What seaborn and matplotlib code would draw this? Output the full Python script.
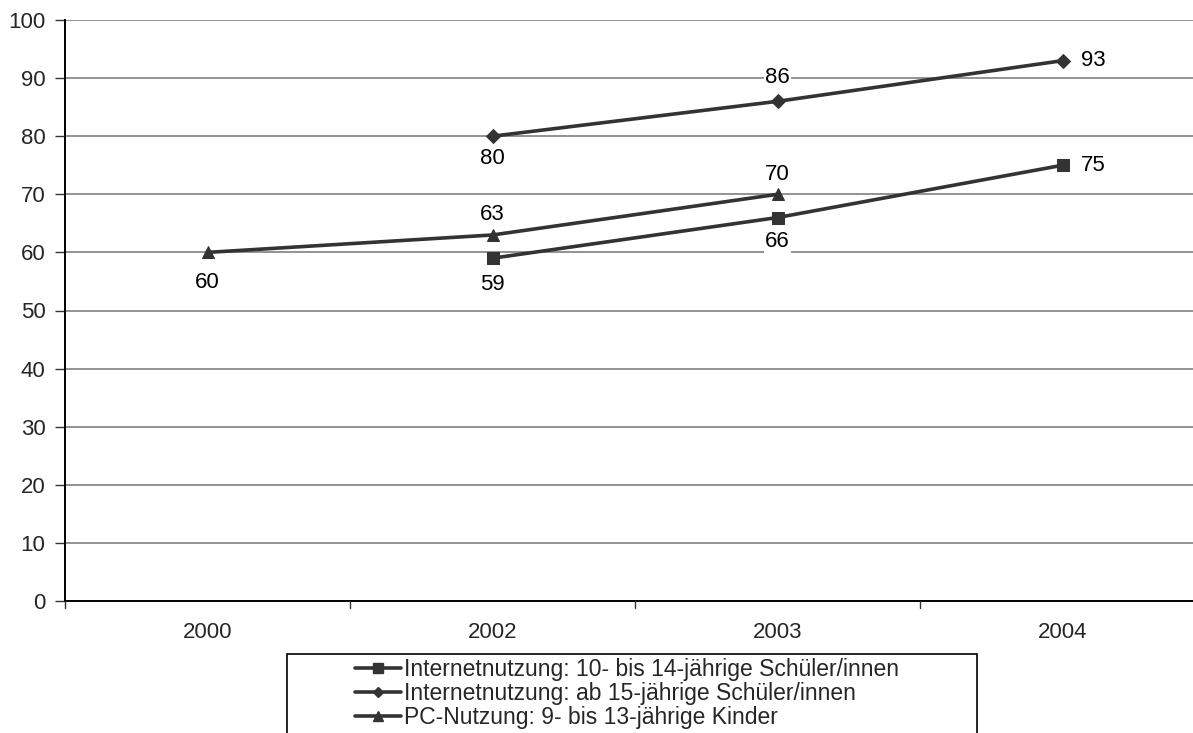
import matplotlib
matplotlib.use("Agg")
import matplotlib.pyplot as plt
import seaborn as sns
import pandas as pd
import numpy as np
from matplotlib.lines import Line2D
from matplotlib.patches import Rectangle

# Survey years (categorical axis)
years = ["2000", "2002", "2003", "2004"]

# Series values in percent (None = not surveyed)
internet_10_14 = [None, 59, 66, 75]
internet_ab_15 = [None, 80, 86, 93]
pc_9_13 = [60, 63, 70, None]

series_names = [
    "Internetnutzung: 10- bis 14-jährige Schüler/innen",
    "Internetnutzung: ab 15-jährige Schüler/innen",
    "PC-Nutzung: 9- bis 13-jährige Kinder",
]
series_values = [internet_10_14, internet_ab_15, pc_9_13]
markers = ["s", "D", "^"]
marker_sizes = [9, 7, 9]

# Label placement per series point: (dx, dy) in points
label_offsets = [
    [None, (0, -19), (0, -17), (22, 0)],
    [None, (0, -16), (0, 17.5), (22, 0)],
    [(0, -22), (0, 14.5), (0, 14.5), None],
]

y_ticks = list(range(0, 101, 10))

sns.set_theme(style="white")
plt.rcParams["font.family"] = ["Liberation Sans", "DejaVu Sans"]

W, H = 1193, 733
fig = plt.figure(figsize=(W / 100, H / 100), dpi=100)
ax = fig.add_axes([65 / W, (H - 601) / H, 1140 / W, 581 / H])

line_color = "#333333"
fs = 16

rows = []
for name, vals in zip(series_names, series_values):
    for i, v in enumerate(vals):
        if v is not None:
            rows.append({"series": name, "x": i, "value": v})
df = pd.DataFrame(rows)

for name, mk, ms in zip(series_names, markers, marker_sizes):
    sub = df[df["series"] == name]
    sns.lineplot(data=sub, x="x", y="value", ax=ax, color=line_color,
                 linewidth=2.6, marker=mk, markersize=ms,
                 markeredgecolor=line_color, markerfacecolor=line_color,
                 legend=False, zorder=3)

# Value labels
for vals, offs in zip(series_values, label_offsets):
    for i, v in enumerate(vals):
        if v is None:
            continue
        dx, dy = offs[i]
        ax.annotate(f"{v}", xy=(i, v), xytext=(dx, dy),
                    textcoords="offset points", ha="center", va="center",
                    fontsize=fs, color="black", zorder=4,
                    bbox=dict(facecolor="white", edgecolor="none", pad=1.0))

ax.set_xlim(-0.5, len(years) - 0.5)
ax.set_ylim(0, 100)
ax.set_yticks(y_ticks)
ax.set_yticklabels([str(t) for t in y_ticks], fontsize=fs)
ax.set_xticks(range(len(years)))
ax.set_xticklabels(years, fontsize=fs)
ax.tick_params(axis="x", length=0, pad=15)
ax.tick_params(axis="y", length=7, width=1, color="#333333", pad=7, left=True)
ax.set_xlabel("")
ax.set_ylabel("")

# Category boundary ticks on the x axis
for b in np.arange(-0.5, len(years), 1.0):
    ax.plot([b, b], [0, -1.2], color="#333333", lw=1, clip_on=False, zorder=5)

ax.yaxis.grid(True, color="#808080", linewidth=1.2)
ax.set_axisbelow(True)
for side in ["top", "right"]:
    ax.spines[side].set_visible(False)
for side in ["left", "bottom"]:
    ax.spines[side].set_color("black")
    ax.spines[side].set_linewidth(1.4)

# Legend frame (runs past the lower edge of the figure)
fig.patches.append(Rectangle((287 / W, -20 / H), (977 - 287) / W, (H - 654 + 20) / H,
                             transform=fig.transFigure, facecolor="white",
                             edgecolor="black", linewidth=1.2, zorder=1))

handles = [Line2D([0], [0], color=line_color, linewidth=2.6, marker=mk,
                  markersize=ms * 0.8, markerfacecolor=line_color,
                  markeredgecolor=line_color)
           for mk, ms in zip(markers, marker_sizes)]
leg = fig.legend(handles, series_names, loc="upper left",
                 bbox_to_anchor=(355 / W, 1 - 658 / H),
                 fontsize=16.5, frameon=False,
                 handlelength=2.0, handletextpad=0.15, labelspacing=0.05,
                 borderpad=0, borderaxespad=0)
leg.set_zorder(2)

fig.savefig("out.png", dpi=100)
